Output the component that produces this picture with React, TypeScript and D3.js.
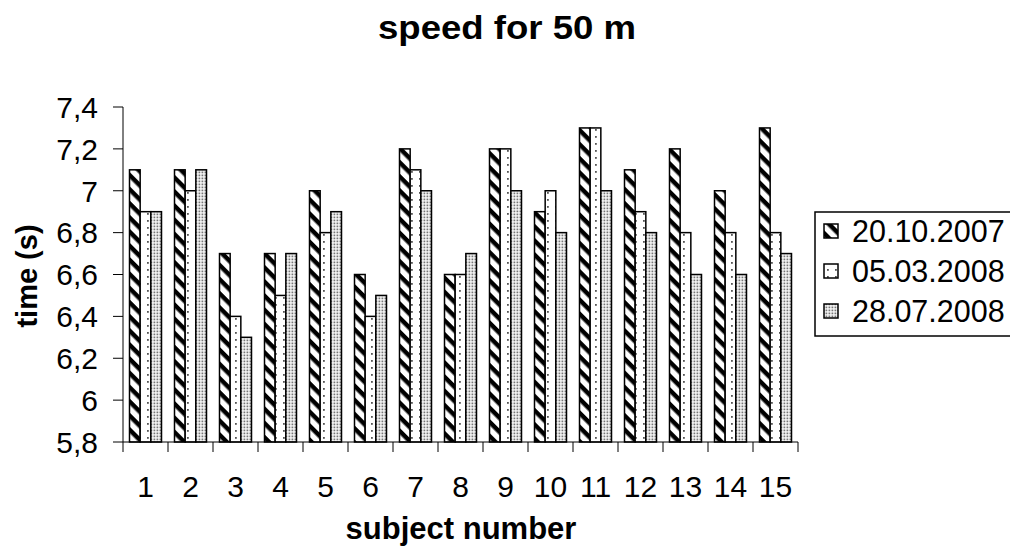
import React from "react";
import * as d3 from "d3";

const categories = ["1","2","3","4","5","6","7","8","9","10","11","12","13","14","15"];
const seriesNames = ["20.10.2007", "05.03.2008", "28.07.2008"];
const s2007_10 = [7.1, 7.1, 6.7, 6.7, 7.0, 6.6, 7.2, 6.6, 7.2, 6.9, 7.3, 7.1, 7.2, 7.0, 7.3];
const s2008_03 = [6.9, 7.0, 6.4, 6.5, 6.8, 6.4, 7.1, 6.6, 7.2, 7.0, 7.3, 6.9, 6.8, 6.8, 6.8];
const s2008_07 = [6.9, 7.1, 6.3, 6.7, 6.9, 6.5, 7.0, 6.7, 7.0, 6.8, 7.0, 6.8, 6.6, 6.6, 6.7];
const yTicks = [5.8, 6, 6.2, 6.4, 6.6, 6.8, 7, 7.2, 7.4];

const series = [s2007_10, s2008_03, s2008_07];
const patternIds = ["pStripe", "pSparse", "pDense"];
const FONT = "'Liberation Sans', Arial, sans-serif";

export default function App() {
  const W = 1010, H = 548;
  const left = 123, right = 798, top = 107, bottom = 442;
  const x = d3.scaleBand<string>().domain(categories).range([left, right]).padding(0);
  const inner = d3.scaleBand<number>().domain([0, 1, 2]).range([6.5, x.bandwidth() - 6.5]).padding(0);
  const y = d3.scaleLinear().domain([5.8, 7.4]).range([bottom, top]);
  const fmt = (v: number) => (Math.round(v * 10) / 10).toString().replace(".", ",");

  return (
    <svg width={W} height={H} style={{ position: "absolute", left: 0, top: 0, background: "#fff" }}>
      <defs>
        <pattern id="pStripe" width="10" height="10" patternUnits="userSpaceOnUse" patternTransform="rotate(45)">
          <rect width="10" height="10" fill="#fff" />
          <rect x="0" y="0" width="10" height="4.5" fill="#000" />
        </pattern>
        <pattern id="pSparse" width="8" height="7" patternUnits="userSpaceOnUse">
          <rect width="8" height="7" fill="#fff" />
          <rect x="3" y="3" width="1.8" height="1.8" fill="#555" />
        </pattern>
        <pattern id="pDense" width="3" height="3" patternUnits="userSpaceOnUse">
          <rect width="3" height="3" fill="#fff" />
          <rect x="0.5" y="0.5" width="1.8" height="1.8" fill="#777" />
        </pattern>
      </defs>

      <text x={507} y={39} textAnchor="middle" fontFamily={FONT} fontWeight="bold" fontSize={34}
        textLength={258} lengthAdjust="spacingAndGlyphs">speed for 50 m</text>

      {/* bars */}
      {categories.map((c, i) => (
        <g key={c}>
          {series.map((s, j) => (
            <rect key={j}
              x={(x(c) as number) + (inner(j) as number)}
              y={y(s[i])}
              width={inner.bandwidth()}
              height={bottom - y(s[i])}
              fill={`url(#${patternIds[j]})`}
              stroke="#000" strokeWidth={1.5} />
          ))}
        </g>
      ))}

      {/* y axis */}
      <line x1={left} x2={left} y1={top} y2={bottom} stroke="#000" strokeWidth={1} />
      {yTicks.map((t) => (
        <g key={t}>
          <line x1={left - 10} x2={left} y1={y(t)} y2={y(t)} stroke="#000" strokeWidth={1} />
          <text x={98} y={y(t)} dy="0.36em" textAnchor="end" fontFamily={FONT} fontSize={30}>{fmt(t)}</text>
        </g>
      ))}

      {/* x axis */}
      <line x1={left} x2={right} y1={bottom} y2={bottom} stroke="#000" strokeWidth={1} />
      {categories.map((c) => (
        <line key={"t" + c} x1={x(c) as number} x2={x(c) as number} y1={bottom} y2={bottom + 10} stroke="#000" />
      ))}
      <line x1={right} x2={right} y1={bottom} y2={bottom + 10} stroke="#000" />
      {categories.map((c) => (
        <text key={"l" + c} x={(x(c) as number) + x.bandwidth() / 2} y={497} textAnchor="middle"
          fontFamily={FONT} fontSize={30}>{c}</text>
      ))}

      <text x={461} y={539} textAnchor="middle" fontFamily={FONT} fontWeight="bold" fontSize={31}>subject number</text>
      <text transform="translate(37,276) rotate(-90)" textAnchor="middle" fontFamily={FONT} fontWeight="bold" fontSize={29}>time (s)</text>

      {/* legend */}
      <rect x={815} y={212} width={200} height={124} fill="#fff" stroke="#000" strokeWidth={1.5} />
      {seriesNames.map((n, j) => (
        <g key={n}>
          <rect x={824} y={224 + j * 40} width={14} height={14} fill={`url(#${patternIds[j]})`} stroke="#000" strokeWidth={1.5} />
          <text x={852} y={242 + j * 40} fontFamily={FONT} fontSize={30.5}>{n}</text>
        </g>
      ))}
    </svg>
  );
}
